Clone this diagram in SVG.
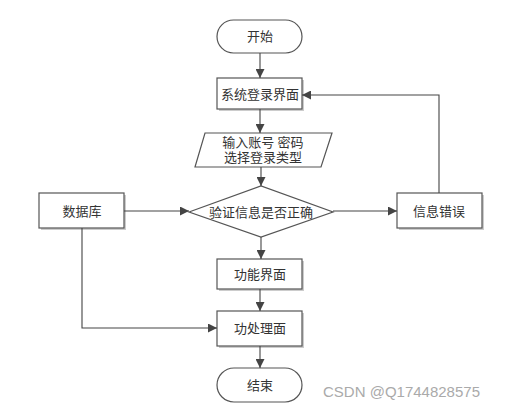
<svg xmlns="http://www.w3.org/2000/svg" width="511" height="409" viewBox="0 0 511 409">
<style>
.s{fill:#fff;stroke:#555;stroke-width:1.2}
.sh{fill:#ccc;stroke:none}
.t{font-family:"Liberation Serif","Noto Sans CJK SC",serif;font-size:13px;fill:#333;text-anchor:middle;dominant-baseline:central}
.c{fill:none;stroke:#444;stroke-width:1.1;marker-end:url(#a)}
</style>
<defs>
<marker id="a" viewBox="0 0 10 10" refX="10" refY="5" markerWidth="9" markerHeight="9" markerUnits="userSpaceOnUse" orient="auto">
<path d="M0,0L10,5L0,10z" fill="#444"/>
</marker>
</defs>
<rect width="511" height="409" fill="#fff"/>
<g id="start"><rect class="s" x="217" y="20" width="85" height="33" rx="16.5"/><text class="t" x="260" y="36.5">开始</text></g>
<g id="login"><rect class="sh" x="219" y="80" width="85" height="31"/><rect class="s" x="217" y="78" width="85" height="31"/><text class="t" x="260" y="94">系统登录界面</text></g>
<g id="input"><polygon class="s" points="205,133 332,133 321,167 195,167"/><text class="t" x="263" y="142">输入账号 密码</text><text class="t" x="263" y="157">选择登录类型</text></g>
<g id="check"><polygon class="s" points="189,212 261,186 333,212 261,237"/><text class="t" x="261" y="212">验证信息是否正确</text></g>
<g id="db"><rect class="sh" x="41" y="195" width="85" height="35"/><rect class="s" x="39" y="193" width="85" height="35"/><text class="t" x="82" y="211">数据库</text></g>
<g id="err"><rect class="sh" x="399" y="195" width="85" height="35"/><rect class="s" x="397" y="193" width="85" height="35"/><text class="t" x="439" y="211">信息错误</text></g>
<g id="func"><rect class="sh" x="219" y="261" width="85" height="30"/><rect class="s" x="217" y="259" width="85" height="30"/><text class="t" x="260" y="274">功能界面</text></g>
<g id="proc"><rect class="sh" x="219" y="313" width="85" height="35"/><rect class="s" x="217" y="311" width="85" height="35"/><text class="t" x="260" y="328">功处理面</text></g>
<g id="end"><rect class="s" x="217" y="368" width="85" height="34" rx="17"/><text class="t" x="260" y="385">结束</text></g>
<g id="connectors">
<path class="c" d="M260,53V78"/>
<path class="c" d="M260,109V133"/>
<path class="c" d="M261,167V186"/>
<path class="c" d="M124,211H189"/>
<path class="c" d="M333,211H397"/>
<path class="c" d="M439,193V95H302"/>
<path class="c" d="M261,237V259"/>
<path class="c" d="M260,289V311"/>
<path class="c" d="M82,228V328H217"/>
<path class="c" d="M260,346V368"/>
</g>
<text x="323" y="397" font-family="Liberation Sans, sans-serif" font-size="15" fill="#aaa">CSDN @Q1744828575</text>
</svg>
